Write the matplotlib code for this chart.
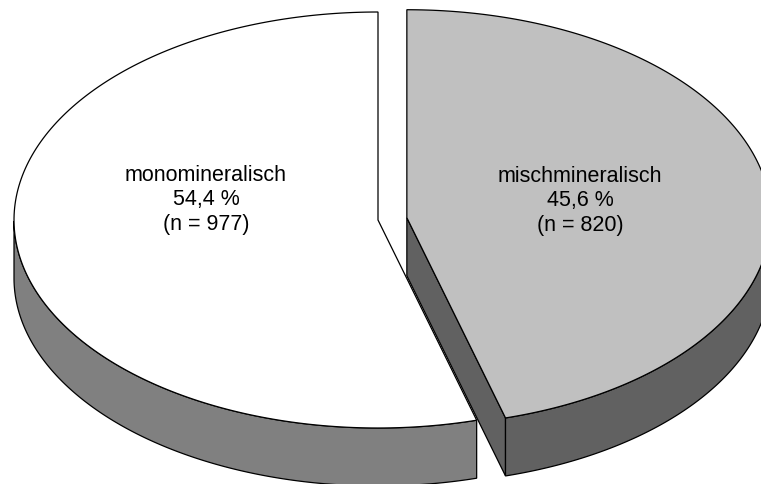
import matplotlib
matplotlib.use("Agg")
import matplotlib.pyplot as plt
import numpy as np
from matplotlib.patches import Polygon

# data
labels = ["monomineralisch", "mischmineralisch"]
counts = [977, 820]
percent_text = ["54,4 %", "45,6 %"]
top_colors = ["#ffffff", "#c0c0c0"]
side_colors = ["#808080", "#616161"]
explode = [0.0, 0.08]

# geometry of the 3D pie (pixel coords, y down)
cx, cy = 378, 221
rx, ry = 364, 208
depth = 58
label_pos = [(206, 200), (580, 201)]

plt.rcParams['font.family'] = ['Liberation Sans', 'DejaVu Sans']

fig = plt.figure(figsize=(7.61, 4.85), dpi=100)
ax = fig.add_axes([0, 0, 1, 1])
ax.set_xlim(0, 761)
ax.set_ylim(485, 0)
ax.axis('off')


def pt(c, t):
    return (c[0] + rx * np.cos(t), c[1] - ry * np.sin(t))


def arc(c, t0, t1, n=200):
    t = np.linspace(t0, t1, n)
    return np.column_stack([c[0] + rx * np.cos(t), c[1] - ry * np.sin(t)])


total = sum(counts)
start = np.pi / 2
lw = 0.9
for i, cnt in enumerate(counts):
    sweep = 2 * np.pi * cnt / total
    # first slice runs counter clockwise from the top, the second clockwise
    if i == 0:
        t0, t1 = start, start + sweep
    else:
        t0, t1 = start - sweep, start
    mid = (t0 + t1) / 2
    c = (cx + explode[i] * rx * np.cos(mid), cy - explode[i] * ry * np.sin(mid))

    # radial cut faces turned to the viewer
    for t, sgn in ((t0, -1), (t1, 1)):
        if np.sin(t + sgn * np.pi / 2) < -0.01:
            p = pt(c, t)
            face = [c, p, (p[0], p[1] + depth), (c[0], c[1] + depth)]
            ax.add_patch(Polygon(face, closed=True, fc=side_colors[i], ec='black', lw=lw))

    # outer wall, front half only
    ts = np.linspace(t0, t1, 400)
    front = ts[np.sin(ts) <= 0]
    if len(front) > 1:
        upper = np.column_stack([c[0] + rx * np.cos(front), c[1] - ry * np.sin(front)])
        lower = upper[::-1] + [0, depth]
        ax.add_patch(Polygon(np.vstack([upper, lower]), closed=True,
                             fc=side_colors[i], ec='black', lw=lw))

    # top face
    top = np.vstack([[c], arc(c, t0, t1)])
    ax.add_patch(Polygon(top, closed=True, fc=top_colors[i], ec='black', lw=lw))

    lx, ly = label_pos[i]
    ax.text(lx, ly, f"{labels[i]}\n{percent_text[i]}\n(n = {cnt})",
            ha='center', va='center', fontsize=15.5, linespacing=1.22)

fig.savefig("out.png", dpi=100)
